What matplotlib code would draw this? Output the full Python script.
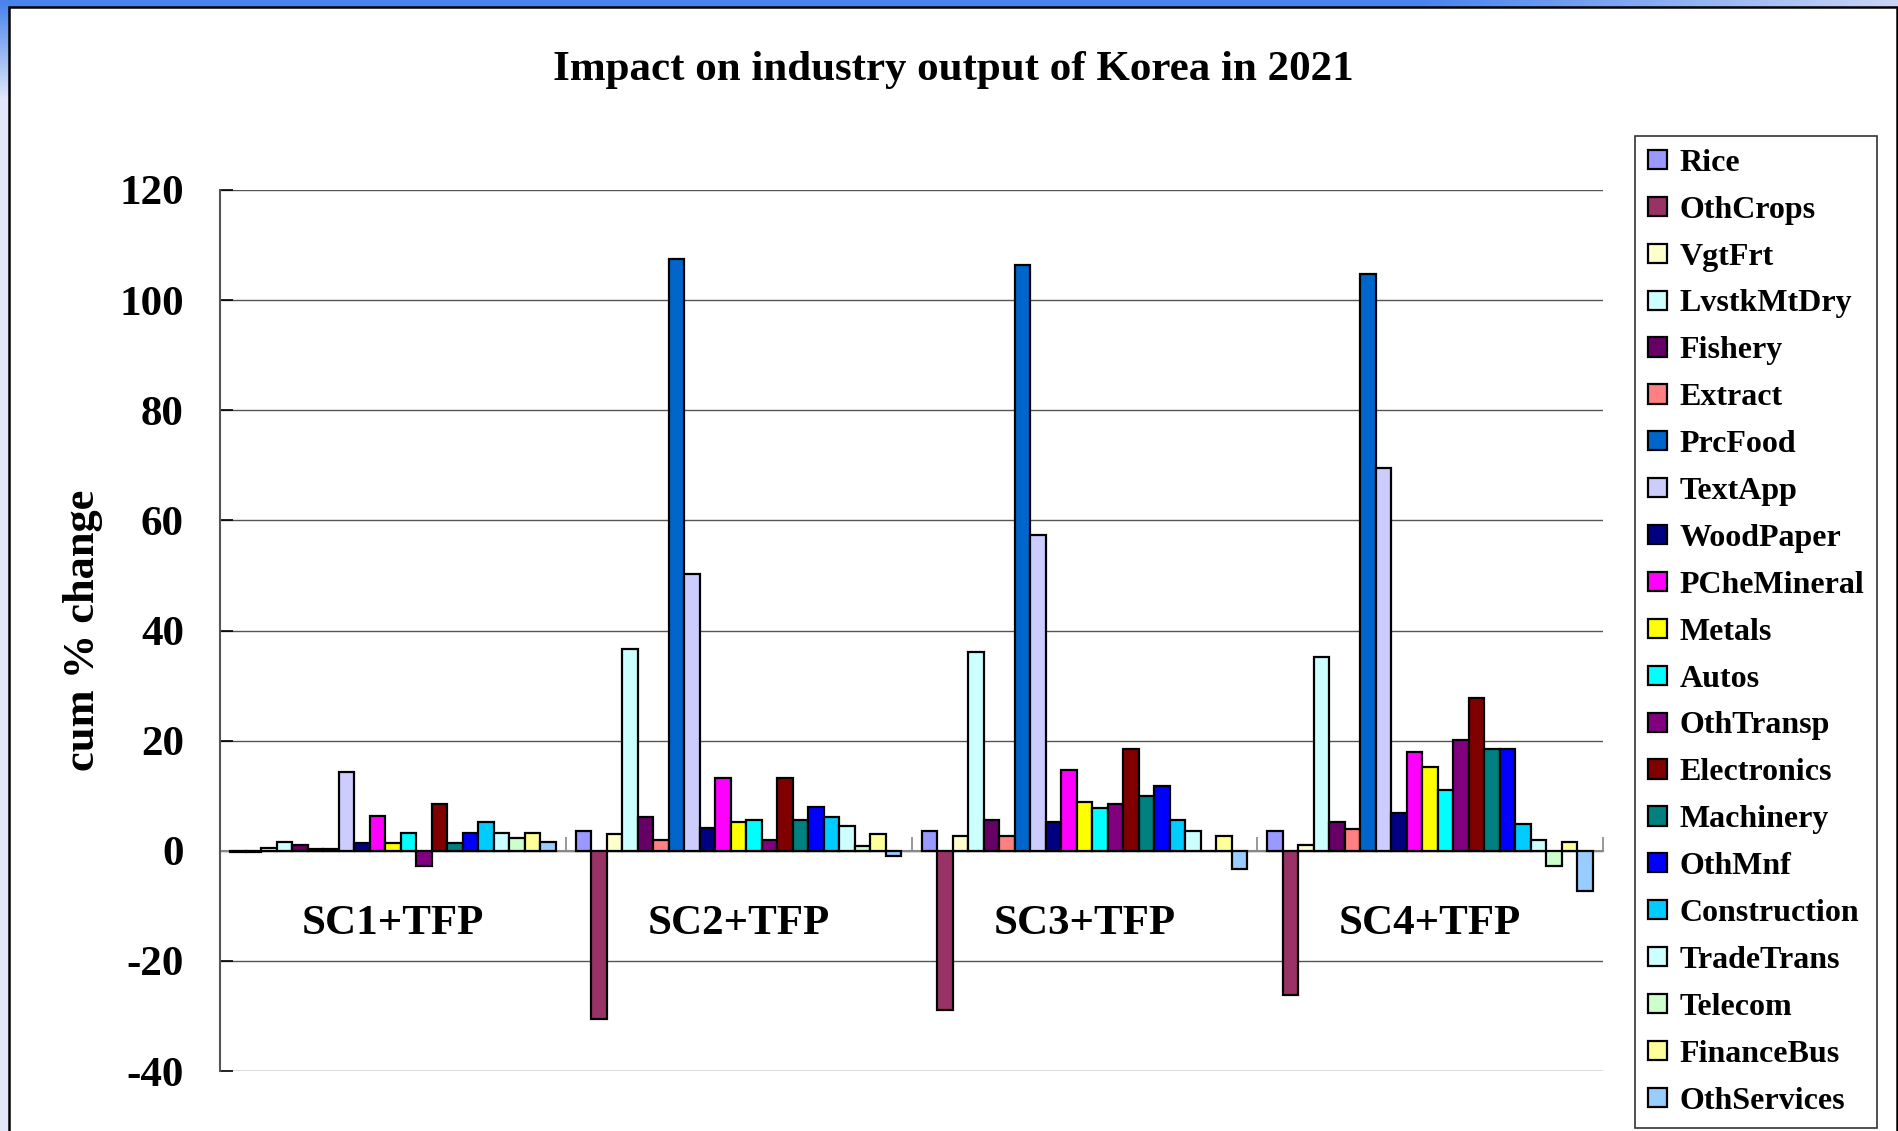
import numpy as np
import matplotlib
matplotlib.use("Agg")
import matplotlib.pyplot as plt
from matplotlib.patches import Rectangle, Patch

plt.rcParams['font.family'] = ['Liberation Serif', 'DejaVu Serif']
plt.rcParams['font.weight'] = 'bold'
plt.rcParams['axes.unicode_minus'] = False

# ---------------- data ----------------
categories = ["SC1+TFP", "SC2+TFP", "SC3+TFP", "SC4+TFP"]
sectors = ["Rice", "OthCrops", "VgtFrt", "LvstkMtDry", "Fishery", "Extract",
           "PrcFood", "TextApp", "WoodPaper", "PCheMineral", "Metals", "Autos",
           "OthTransp", "Electronics", "Machinery", "OthMnf", "Construction",
           "TradeTrans", "Telecom", "FinanceBus", "OthServices"]

Rice        = [-0.3, 3.5, 3.5, 3.6]
OthCrops    = [-0.3, -30.5, -28.9, -26.2]
VgtFrt      = [0.5, 3.0, 2.6, 1.0]
LvstkMtDry  = [1.6, 36.6, 36.1, 35.1]
Fishery     = [1.0, 6.2, 5.6, 5.2]
Extract     = [0.4, 1.9, 2.6, 4.0]
PrcFood     = [0.4, 107.4, 106.3, 104.7]
TextApp     = [14.3, 50.3, 57.4, 69.6]
WoodPaper   = [1.4, 4.2, 5.2, 6.8]
PCheMineral = [6.4, 13.2, 14.6, 18.0]
Metals      = [1.4, 5.2, 8.8, 15.2]
Autos       = [3.2, 5.6, 7.8, 11.0]
OthTransp   = [-2.8, 1.9, 8.5, 20.2]
Electronics = [8.4, 13.2, 18.5, 27.7]
Machinery   = [1.4, 5.6, 10.0, 18.5]
OthMnf      = [3.2, 7.9, 11.7, 18.5]
Construction= [5.2, 6.2, 5.6, 4.8]
TradeTrans  = [3.2, 4.5, 3.5, 1.9]
Telecom     = [2.4, 0.9, 0.0, -2.8]
FinanceBus  = [3.2, 3.0, 2.6, 1.5]
OthServices = [1.5, -0.9, -3.4, -7.4]

values = [Rice, OthCrops, VgtFrt, LvstkMtDry, Fishery, Extract, PrcFood, TextApp,
          WoodPaper, PCheMineral, Metals, Autos, OthTransp, Electronics, Machinery,
          OthMnf, Construction, TradeTrans, Telecom, FinanceBus, OthServices]

colors = ["#9999FF", "#993366", "#FFFFCC", "#CCFFFF", "#660066", "#FF8080",
          "#0066CC", "#CCCCFF", "#000080", "#FF00FF", "#FFFF00", "#00FFFF",
          "#800080", "#800000", "#008080", "#0000FF", "#00CCFF", "#CCFFFF",
          "#CCFFCC", "#FFFF99", "#99CCFF"]

yticks = [-40, -20, 0, 20, 40, 60, 80, 100, 120]

# ---------------- figure ----------------
W, H = 1898, 1131
fig = plt.figure(figsize=(W / 100, H / 100), dpi=100)

# slide-like background gradient
bg = fig.add_axes([0, 0, 1, 1], zorder=-10)
ny, nx = 120, 200
yy, xx = np.mgrid[0:ny, 0:nx]
t = np.clip(yy / 10.0, 0, 1)
s = np.clip((xx - 150) / 50.0, 0, 1)
blue = np.array([0.29, 0.52, 0.93])
pale = np.array([0.88, 0.91, 0.98])
lav = np.array([0.80, 0.84, 0.97])
top = blue[None, None, :] * (1 - s[..., None]) + lav[None, None, :] * s[..., None]
img = top * (1 - t[..., None]) + pale[None, None, :] * t[..., None]
bg.imshow(img, aspect='auto', extent=[0, 1, 0, 1], interpolation='bilinear')
bg.set_axis_off()

panel = Rectangle((9 / W, -0.02), (1897 - 9) / W, 1.02 - 7 / H,
                  transform=fig.transFigure, facecolor='white',
                  edgecolor='black', linewidth=1.8, zorder=-5)
fig.patches.append(panel)

ax = fig.add_axes([220 / W, 1 - 1071 / H, (1603 - 220) / W, (1071 - 190) / H])
ax.set_facecolor('white')

n = len(sectors)
group_w = 0.941
w = group_w / n
x = np.arange(len(categories))
for i, (name, vals, c) in enumerate(zip(sectors, values, colors)):
    ax.bar(x + (i - (n - 1) / 2) * w, vals, width=w, color=c,
           edgecolor='black', linewidth=1.6, label=name, zorder=3)

ax.set_xlim(-0.5, 3.5)
ax.set_ylim(-40, 120)
ax.set_yticks(yticks)
ax.yaxis.grid(True, color='#555555', linewidth=1.0, zorder=0)
ax.set_axisbelow(True)

for sp in ['top', 'right']:
    ax.spines[sp].set_visible(False)
ax.spines['left'].set_color('#555555')
ax.spines['left'].set_linewidth(1.5)
ax.spines['bottom'].set_position(('data', 0))
ax.spines['bottom'].set_color('#888888')
ax.spines['bottom'].set_linewidth(1.5)
ax.spines['bottom'].set_zorder(2)

ax.tick_params(axis='y', direction='in', length=9, width=1.2, color='black',
               pad=26, labelsize=31)
for lab in ax.get_yticklabels():
    lab.set_fontweight('bold')

ax.set_xticks(np.arange(-0.5, 4, 1.0))
ax.set_xticklabels([])
ax.tick_params(axis='x', which='major', direction='in', length=10, width=1.2,
               color='#888888')
ax.set_xticks(x, minor=True)
ax.set_xticklabels(categories, minor=True, fontsize=31, fontweight='bold')
ax.tick_params(axis='x', which='minor', length=0, pad=39)

ax.set_ylabel("cum % change", fontsize=32, fontweight='bold', labelpad=12)

fig.text(953 / W, 1 - 70 / H, "Impact on industry output of Korea in 2021",
         ha='center', va='center', fontsize=31, fontweight='bold')

handles = [Patch(facecolor=c, edgecolor='black', linewidth=1.6) for c in colors]
leg = fig.legend(handles, sectors, loc='upper left',
                 bbox_to_anchor=(1635 / W, 1 - 136 / H),
                 prop={'family': 'Liberation Serif', 'weight': 'bold', 'size': 23},
                 frameon=True, fancybox=False, edgecolor='black',
                 handlelength=0.6, handleheight=0.55, handletextpad=0.4,
                 labelspacing=0.56, borderpad=0.4, borderaxespad=0)
leg.get_frame().set_linewidth(1.2)

fig.savefig("out.png", dpi=100)
